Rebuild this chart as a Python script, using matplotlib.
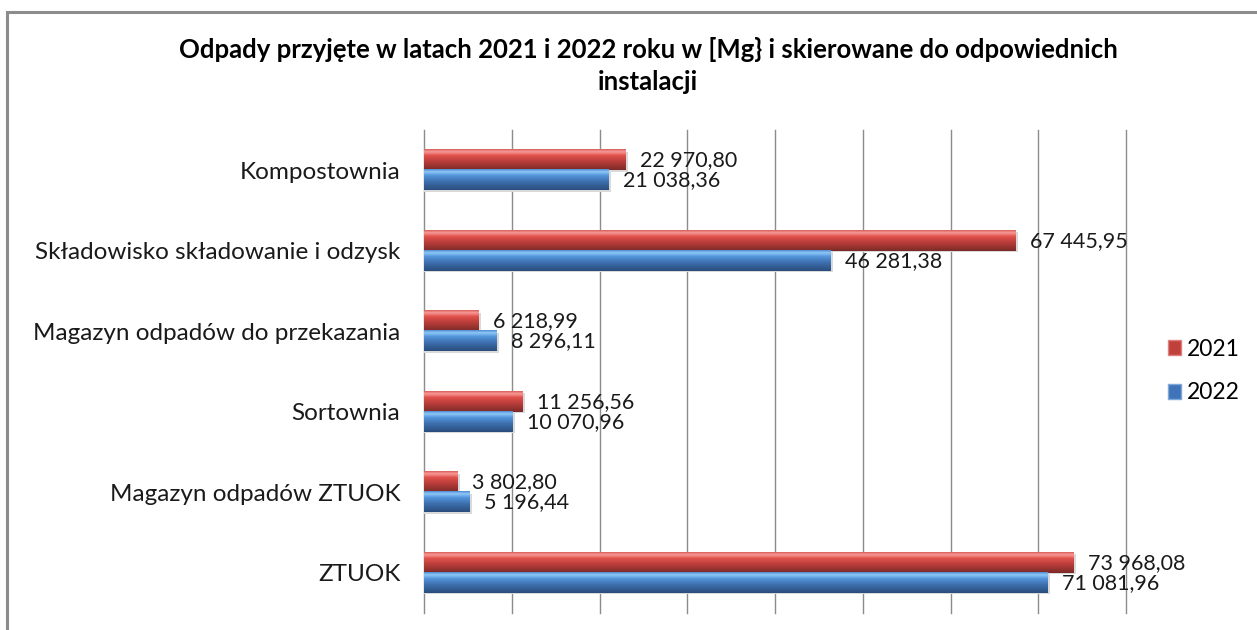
import numpy as np
import matplotlib.pyplot as plt
from matplotlib.colors import LinearSegmentedColormap
from matplotlib.patches import Rectangle, Patch

plt.rcParams['font.family'] = ['Lato', 'DejaVu Sans']

categories = ['Kompostownia', 'Składowisko składowanie i odzysk', 'Magazyn odpadów do przekazania',
              'Sortownia', 'Magazyn odpadów ZTUOK', 'ZTUOK']
vals_2021 = [22970.80, 67445.95, 6218.99, 11256.56, 3802.80, 73968.08]
vals_2022 = [21038.36, 46281.38, 8296.11, 10070.96, 5196.44, 71081.96]
series = ['2021', '2022']

red_cmap = LinearSegmentedColormap.from_list('r', [(0, '#d8605c'), (0.12, '#f89a97'), (0.3, '#e0514c'),
                                                   (0.6, '#b83d39'), (1, '#7c2a28')])
blue_cmap = LinearSegmentedColormap.from_list('b', [(0, '#4f8ad0'), (0.12, '#8ec8f8'), (0.3, '#5596dc'),
                                                    (0.6, '#3d6fae'), (1, '#2a4d7c')])


def fmt(v):
    s = f'{v:,.2f}'
    return s.replace(',', ' ').replace('.', ',')


fig = plt.figure(figsize=(12.57, 6.30), dpi=100)
fig.patches.append(Rectangle((7 / 1257, -0.1), 1.2, (630 - 12) / 630 + 0.1, transform=fig.transFigure,
                             fill=False, edgecolor='#8c8c8c', linewidth=2.2))
ax = fig.add_axes([424 / 1257, 17 / 630, 702 / 1257, 483 / 630])

n = len(categories)
y = np.arange(n)[::-1]
h = 0.25
grad = np.linspace(0, 1, 64).reshape(-1, 1)

for i in range(n):
    for v, cmap, off in [(vals_2021[i], red_cmap, h / 2), (vals_2022[i], blue_cmap, -h / 2)]:
        y0 = y[i] + off - h / 2
        y1 = y[i] + off + h / 2
        # light shadow
        ax.add_patch(Rectangle((0, y0 - 0.02), v + 300, h, facecolor='#d9d9d9', edgecolor='none', zorder=2))
        ax.imshow(grad, cmap=cmap, extent=[0, v, y0, y1], origin='upper', aspect='auto', zorder=3)
        ax.text(v + 1650, y[i] + off, fmt(v), ha='left', va='center', fontsize=15.5, color='#1a1a1a', zorder=4)

ax.set_xlim(0, 80000)
ax.set_ylim(-0.5, n - 0.5)
ax.set_xticks(np.arange(0, 80001, 10000))
ax.set_xticklabels([])
ax.tick_params(axis='x', length=0)
ax.set_yticks(y)
ax.set_yticklabels(categories, fontsize=17.5, color='#1a1a1a')
ax.tick_params(axis='y', length=0, pad=17)
ax.grid(axis='x', color='#8c8c8c', linewidth=1)
for gl in ax.get_xgridlines():
    gl.set_clip_on(False)
ax.set_axisbelow(True)
for s in ax.spines.values():
    s.set_visible(False)

fig.text(648 / 1257, 1 - 50 / 630, 'Odpady przyjęte w latach 2021 i 2022 roku w [Mg} i skierowane do odpowiednich',
         ha='center', va='center', fontsize=18.5, fontweight='bold')
fig.text(648 / 1257, 1 - 82 / 630, 'instalacji', ha='center', va='center', fontsize=18.5, fontweight='bold')

handles = [Patch(facecolor='#c0403c', edgecolor='#e08080'), Patch(facecolor='#3f74b8', edgecolor='#80a8d8')]
fig.legend(handles, series, loc='center left', bbox_to_anchor=(1147 / 1257, 1 - 371 / 630), frameon=False,
           fontsize=16.5, handlelength=0.6, handleheight=0.6, handletextpad=0.25, labelspacing=1.0)

fig.savefig('out.png', dpi=100)
